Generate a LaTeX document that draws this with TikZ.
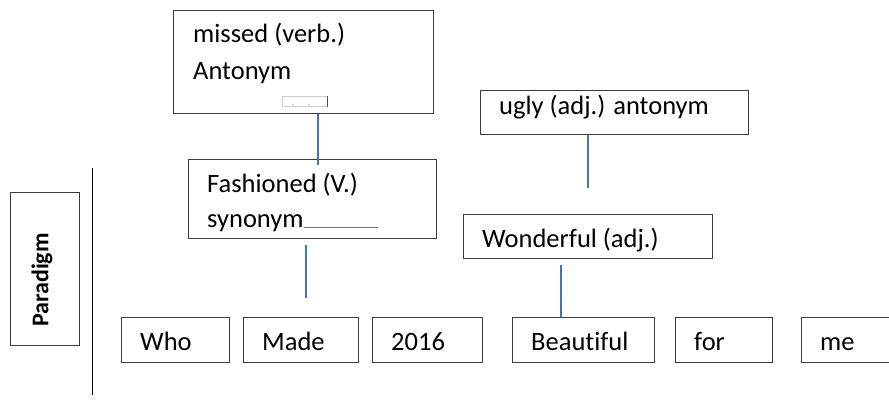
\documentclass[tikz,border=0pt]{standalone}
\usepackage{fontspec}
\setmainfont{Carlito}[Ligatures=NoCommon]
\usepackage{tikz}
\usetikzlibrary{calc}
\definecolor{linkBlue}{RGB}{68,114,196}
\definecolor{boxGray} {RGB}{60, 60, 60}

\tikzset{
  box/.style={draw=boxGray,line width=0.9pt,anchor=north west,inner sep=0pt},
  word/.style={anchor=base west,inner sep=0pt,align=left,
               font=\fontsize{26.5}{36}\selectfont},
  link/.style={draw=linkBlue,line width=1.3pt}
}

\begin{document}
\begin{tikzpicture}[x=1pt,y=-1pt]
  \useasboundingbox (0,0) rectangle (889,404);

  % paradigm axis
  \node[box,minimum width=69,minimum height=153] (parBox) at (10,192) {};
  \node[font=\fontsize{24}{28}\selectfont\bfseries,rotate=90] (parT) at (42,280) {Paradigm};
  \coordinate (axTop) at (92,168);
  \coordinate (axBot) at (92,395);
  \draw[black,line width=1pt] (axTop) -- (axBot);

  % upper boxes (base = last line)
  \node[box,minimum width=260,minimum height=103] (missed) at (173,10) {};
  \node[word] (missedT) at ($(missed.north west)+(20,70)$) {missed (verb.)\\[1pt]Antonym};
  \node[draw=black!20,line width=0.5pt,anchor=north west,inner sep=0pt,
        minimum width=45,minimum height=10] (blank) at (282,96) {};
  \draw[black!70,line width=0.7pt] (blank.north east) -- (blank.south east);
  \fill[black!60] ($(blank.south west)+(11,-1.5)$) circle (0.6);
  \fill[black!60] ($(blank.south west)+(27,-1.5)$) circle (0.6);

  \node[box,minimum width=248,minimum height=79] (fash) at (188,159) {};
  \node[word] (fashT) at ($(fash.north west)+(19,68)$)
    {Fashioned (V.)\\[-1pt]synonym\textcolor{black!55}{\rule[-0.5pt]{74pt}{0.7pt}}};

  \node[box,minimum width=268,minimum height=44] (ugly) at (480,90) {};
  \node[word] (uglyT) at ($(ugly.north west)+(19,24)$) {ugly (adj.) antonym};

  \node[box,minimum width=249,minimum height=44] (wond) at (463,214) {};
  \node[word] (wondT) at ($(wond.north west)+(19,33)$) {Wonderful (adj.)};

  % sentence
  \foreach \nm/\x/\w/\txt in {who/121/108/Who, made/243/115/Made, year/372/110/2016,
                              beaut/512/142/Beautiful, for/675/97/for, me/801/100/me}{
    \node[box,minimum width=\w,minimum height=45] (\nm) at (\x,317) {};
    \node[word] (\nm T) at ($(\nm.north west)+(19,33)$) {\txt};
  }

  % links
  \coordinate (m1) at (318,165);
  \draw[link] (missed.south -| m1) -- (m1);
  \coordinate (f1) at (306,245);
  \coordinate (f2) at (306,298);
  \draw[link] (f1) -- (f2);
  \coordinate (u1) at (588,188);
  \draw[link] (ugly.south -| u1) -- (u1);
  \coordinate (w1) at (561,265);
  \draw[link] (w1) -- (w1 |- beaut.north);
\end{tikzpicture}
\end{document}
